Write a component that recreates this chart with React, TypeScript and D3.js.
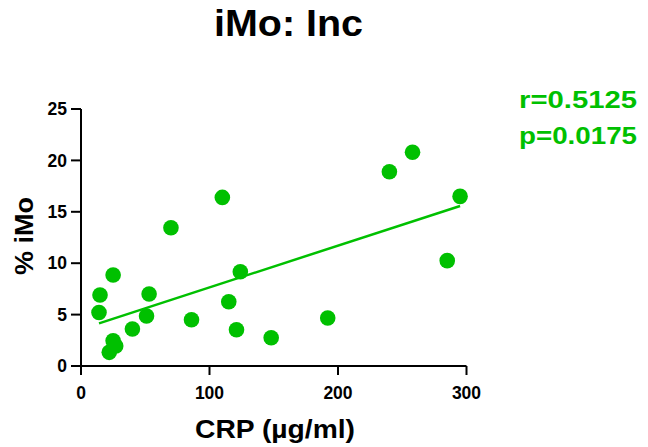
import React from "react";
import * as d3 from "d3";

const crp = [14.8, 14, 25, 25, 27, 22, 40, 51, 53, 70, 86, 110, 115, 121, 124, 148, 192, 240, 258, 295, 285];
const iMo = [6.9, 5.2, 8.85, 2.45, 1.95, 1.33, 3.6, 4.86, 7.0, 13.45, 4.5, 16.4, 6.25, 3.53, 9.17, 2.75, 4.67, 18.9, 20.8, 16.5, 10.25];
const xTicks = [0, 100, 200, 300];
const yTicks = [0, 5, 10, 15, 20, 25];
const statLines = ["r=0.5125", "p=0.0175"];

const green = "#00c000";
const font = "Liberation Sans, Arial, sans-serif";

export default function App() {
  const x = d3.scaleLinear().domain([0, 300]).range([81, 466.5]);
  const y = d3.scaleLinear().domain([0, 25]).range([366, 109]);

  // least squares fit
  const mx = d3.mean(crp)!;
  const my = d3.mean(iMo)!;
  let sxy = 0;
  let sxx = 0;
  crp.forEach((v, i) => {
    sxy += (v - mx) * (iMo[i] - my);
    sxx += (v - mx) * (v - mx);
  });
  const slope = sxy / sxx;
  const icpt = my - slope * mx;
  const [x0, x1] = d3.extent(crp) as [number, number];
  const fit = d3.line<number>().x((d) => x(d)).y((d) => y(icpt + slope * d))([x0, x1]);

  return (
    <svg width={648} height={447} style={{ position: "absolute", left: 0, top: 0 }} fontFamily={font}>
      <rect width={648} height={447} fill="white" />
      <text x={288.5} y={36} textAnchor="middle" fontSize={36} fontWeight="bold" textLength={149} lengthAdjust="spacingAndGlyphs">
        iMo: Inc
      </text>

      {/* axes */}
      <line x1={x(0)} x2={x(300)} y1={y(0)} y2={y(0)} stroke="black" strokeWidth={2} />
      <line x1={x(0)} x2={x(0)} y1={y(25)} y2={y(0)} stroke="black" strokeWidth={2} />
      {xTicks.map((t) => (
        <g key={"x" + t}>
          <line x1={x(t)} x2={x(t)} y1={y(0)} y2={y(0) + 9} stroke="black" strokeWidth={2} />
          <text x={x(t)} y={398.5} textAnchor="middle" fontSize={17.5} fontWeight="bold">
            {t}
          </text>
        </g>
      ))}
      {yTicks.map((t) => (
        <g key={"y" + t}>
          <line x1={x(0) - 10} x2={x(0)} y1={y(t)} y2={y(t)} stroke="black" strokeWidth={2} />
          <text x={67} y={y(t) + 6.2} textAnchor="end" fontSize={17.5} fontWeight="bold">
            {t}
          </text>
        </g>
      ))}

      <text x={275} y={438} textAnchor="middle" fontSize={25} fontWeight="bold" textLength={160} lengthAdjust="spacingAndGlyphs">
        CRP (µg/ml)
      </text>
      <text
        transform="translate(33,236) rotate(-90)"
        textAnchor="middle"
        fontSize={25}
        fontWeight="bold"
        textLength={78}
        lengthAdjust="spacingAndGlyphs"
      >
        % iMo
      </text>

      <path d={fit ?? ""} stroke={green} strokeWidth={2.5} fill="none" />
      {crp.map((v, i) => (
        <circle key={i} cx={x(v)} cy={y(iMo[i])} r={7.8} fill={green} />
      ))}

      {statLines.map((s, i) => (
        <text key={s} x={519} y={107.5 + i * 36} fontSize={23} fontWeight="bold" fill={green} textLength={118} lengthAdjust="spacingAndGlyphs">
          {s}
        </text>
      ))}
    </svg>
  );
}
